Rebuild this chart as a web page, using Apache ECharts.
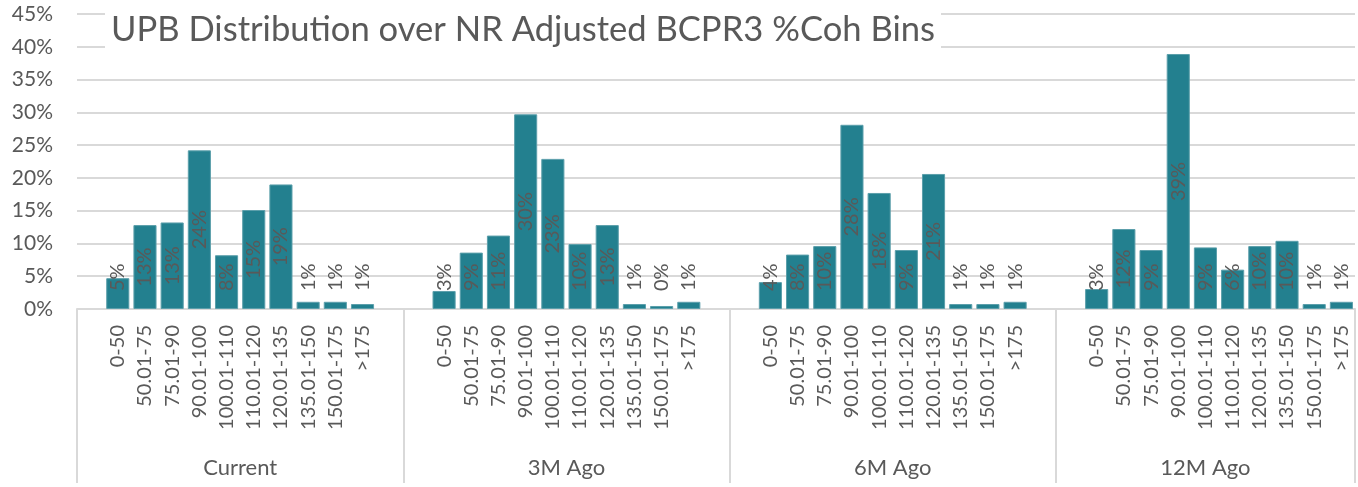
<!DOCTYPE html>
<html>
<head>
<meta charset="utf-8">
<script src="https://cdn.jsdelivr.net/npm/echarts@6/dist/echarts.min.js"></script>
<style>
html, body { margin: 0; padding: 0; background: #fff; }
#main { width: 1358px; height: 487px; }
</style>
</head>
<body>
<div id="main"></div>
<script>
// bins on the lower axis, repeated for every snapshot
var bins = ['0-50', '50.01-75', '75.01-90', '90.01-100', '100.01-110', '110.01-120', '120.01-135', '135.01-150', '150.01-175', '>175'];
var groups = ['Current', '3M Ago', '6M Ago', '12M Ago'];

// share of UPB per bin
var current = [0.047, 0.128, 0.132, 0.242, 0.082, 0.151, 0.190, 0.011, 0.011, 0.0076];
var ago3m   = [0.0275, 0.086, 0.112, 0.297, 0.229, 0.099, 0.128, 0.0076, 0.0046, 0.011];
var ago6m   = [0.041, 0.083, 0.096, 0.281, 0.177, 0.090, 0.206, 0.0076, 0.0076, 0.011];
var ago12m  = [0.0305, 0.122, 0.090, 0.389, 0.094, 0.060, 0.096, 0.104, 0.0076, 0.011];

var yMax = 0.45;
var yStep = 0.05;

var txt = '#595959';
var font = 'Lato';
var gridCol = '#d9d9d9';

// excel leaves an empty slot on each side of a group (none after the last one)
var groupValues = [current, ago3m, ago6m, ago12m];
var cats = [], vals = [], bounds = [0], mids = [];
groups.forEach(function (g, gi) {
    var start = cats.length;
    cats.push(''); vals.push(null);
    bins.forEach(function (b, bi) {
        cats.push(b);
        vals.push(groupValues[gi][bi]);
    });
    if (gi < groups.length - 1) { cats.push(''); vals.push(null); }
    bounds.push(cats.length);
    mids.push((start + cats.length) / 2);
});

var pct = function (v) { return Math.round(v * 100) + '%'; };

var chart = echarts.init(document.getElementById('main'));

option = {
    animation: false,
    title: {
        text: 'UPB Distribution over NR Adjusted BCPR3 %Coh Bins',
        left: 105,
        top: 4,
        padding: [8, 6, 8, 6],
        backgroundColor: '#fff',
        textStyle: {
            fontFamily: font,
            fontWeight: 'normal',
            fontSize: 34.6,
            color: txt
        }
    },
    grid: {
        left: 77,
        top: 14,
        width: 1278,
        height: 295,
        outerBoundsMode: 'none'
    },
    xAxis: [
        {
            type: 'category',
            data: cats,
            axisLine: { lineStyle: { color: gridCol, width: 2 } },
            axisTick: { show: false },
            axisLabel: {
                interval: 0,
                rotate: 90,
                margin: 16,
                fontFamily: font,
                fontSize: 20,
                color: txt
            }
        },
        {
            type: 'value',
            min: 0,
            max: cats.length,
            position: 'bottom',
            axisLine: { show: false },
            splitLine: { show: false },
            axisTick: {
                show: true,
                customValues: bounds,
                length: 174,
                lineStyle: { color: gridCol, width: 2 }
            },
            axisLabel: {
                customValues: mids,
                margin: 148,
                fontFamily: font,
                fontSize: 22,
                color: txt,
                formatter: function (v) { return groups[mids.indexOf(v)]; }
            }
        }
    ],
    yAxis: {
        type: 'value',
        min: 0,
        max: yMax,
        interval: yStep,
        axisLine: { show: false },
        axisTick: { show: false },
        splitLine: { lineStyle: { color: gridCol, width: 2 } },
        axisLabel: {
            margin: 24,
            fontFamily: font,
            fontSize: 21,
            color: txt,
            formatter: pct
        }
    },
    series: [
        {
            type: 'bar',
            data: vals,
            barWidth: '85%',
            itemStyle: {
                color: '#23808f',
                borderColor: '#5c9fab',
                borderWidth: 1
            },
            label: {
                show: true,
                position: 'inside',
                rotate: 90,
                fontFamily: font,
                fontSize: 20,
                color: txt,
                formatter: function (p) { return pct(p.value); }
            },
            // keep small-bar labels lifted off the axis like excel does
            labelLayout: function (p) {
                var half = p.labelRect.height / 2;
                var cy = p.labelRect.y + half;
                var floor = p.rect.y + p.rect.height - 18;
                return {
                    x: p.rect.x + p.rect.width / 2,
                    y: Math.min(cy, floor - half),
                    align: 'center',
                    verticalAlign: 'middle'
                };
            }
        }
    ]
};

chart.setOption(option);
</script>
</body>
</html>
